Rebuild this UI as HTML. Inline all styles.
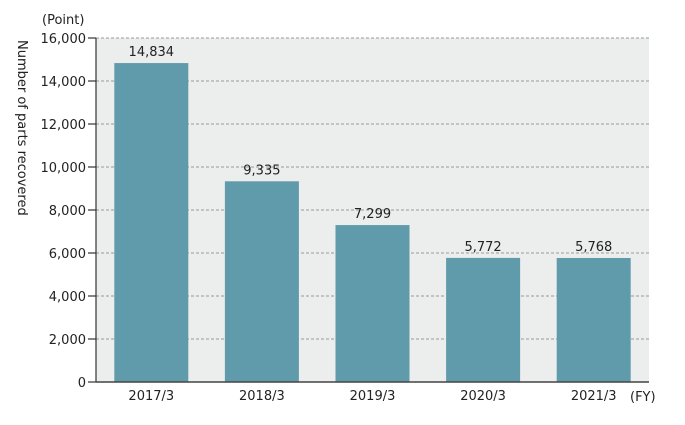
<!DOCTYPE html>
<html><head><meta charset="utf-8"><style>
body{margin:0;background:#fff;}
svg text{font-family:"DejaVu Sans","Liberation Sans",sans-serif;fill:#222;}
</style></head><body>
<svg width="685" height="420">
<g id="g"></g>
</svg>
<script>
const categories=["2017/3","2018/3","2019/3","2020/3","2021/3"];
const values=[14834,9335,7299,5772,5768];
const valueLabels=["14,834","9,335","7,299","5,772","5,768"];
const ticks=[0,2000,4000,6000,8000,10000,12000,14000,16000];
const tickLabels=["0","2,000","4,000","6,000","8,000","10,000","12,000","14,000","16,000"];
const L=96,R=649,T=38,B=382;
const y=v=>B-(v/16000)*(B-T);
const bw=(R-L)/categories.length;
const x=i=>L+bw*i+bw/2;
const g=document.getElementById('g');const ns="http://www.w3.org/2000/svg";
function mk(t,a,txt){const e=document.createElementNS(ns,t);for(const k in a)e.setAttribute(k,a[k]);if(txt!=null)e.textContent=txt;g.appendChild(e);return e;}
let e=mk('rect',{x:L,y:T,width:R-L,height:B-T,fill:'#eceded'});


ticks.forEach((t,i)=>{
 if(t>0){e=mk('line',{x1:L,x2:R,y1:y(t),y2:y(t),stroke:'#999','stroke-dasharray':'3,2','stroke-width':1});
 
 }
 e=mk('line',{x1:L-8,x2:L,y1:y(t),y2:y(t),stroke:'#333','stroke-width':1.2});
 
 
 e=mk('text',{x:L-10,y:y(t)+5,'text-anchor':'end','font-size':13},tickLabels[i]);
 
 
});
values.forEach((v,i)=>{
 e=mk('rect',{x:x(i)-37,y:y(v),width:74,height:B-y(v),fill:'#609bab'});
 
 
 e=mk('text',{x:x(i),y:y(v)-7,'text-anchor':'middle','font-size':13},valueLabels[i]);
 
 
 e=mk('text',{x:x(i),y:B+18,'text-anchor':'middle','font-size':13},categories[i]);
 
 
});
e=mk('line',{x1:L,x2:L,y1:T,y2:B,stroke:'#333','stroke-width':1.2});


e=mk('line',{x1:L,x2:R,y1:B,y2:B,stroke:'#444','stroke-width':1.5});


e=mk('text',{x:42,y:24,'font-size':13},'(Point)');


e=mk('text',{x:630,y:401,'font-size':13},'(FY)');


e=mk('text',{x:0,y:0,'font-size':13,transform:'translate(18,40) rotate(90)'},'Number of parts recovered');


</script>
</body></html>
